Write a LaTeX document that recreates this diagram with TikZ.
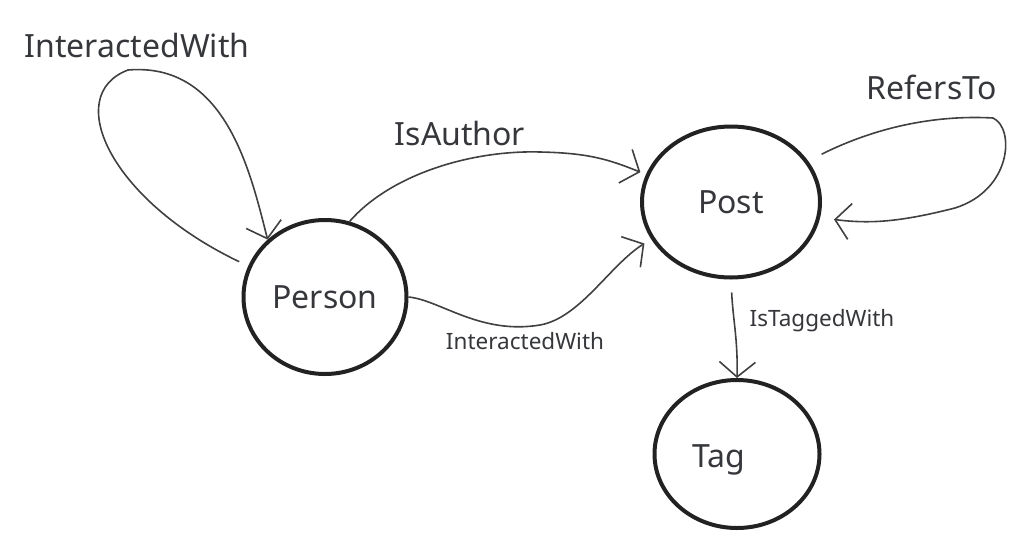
\documentclass[tikz,border=0pt]{standalone}
\usepackage{fontspec}
\setmainfont{Noto Sans}
\usetikzlibrary{arrows.meta,shapes.geometric}
\definecolor{ink}{HTML}{35373B}
\definecolor{rim}{HTML}{222222}
\definecolor{wire}{HTML}{404040}
\tikzset{
  entity/.style={draw=rim, line width=4pt, ellipse, inner sep=0pt, text=ink, font=\fontsize{32}{32}\selectfont},
  rel/.style={draw=wire, line width=1.6pt, -{Straight Barb[length=15pt,width=36pt,line width=1.6pt]}},
  biglab/.style={text=ink, font=\fontsize{32}{32}\selectfont, inner sep=0pt},
  smalllab/.style={text=ink, font=\fontsize{22.5}{22.5}\selectfont, inner sep=0pt},
}

\begin{document}
\begin{tikzpicture}[x=1pt,y=-1pt]
\useasboundingbox (0,0) rectangle (1035,549);

% entities
\node[entity, minimum width=163pt, minimum height=154pt] (person) at (325,297) {Person};
\node[entity, minimum width=178pt, minimum height=151pt] (post) at (731,202) {Post};
\node[entity, minimum width=165pt, minimum height=148pt,
      label={[biglab,xshift=-18pt,yshift=-6pt]center:Tag}] (tag) at (737,454) {};

% relations
\draw[rel, shorten <=10pt] (person.158) .. controls (110,200) and (62,95) .. (128,70)
  .. controls (225,62) and (250,170) .. (person.135);
\draw[rel, shorten >=6pt] (person.72) .. controls (390,175) and (470,150) .. (540,152)
  .. controls (590,153) and (610,160) .. (post.162);
\draw[rel, shorten >=8pt] (person.0) .. controls (440,300) and (480,335) .. (540,325)
  .. controls (580,318) and (610,265) .. (post.205);
\draw[rel, shorten <=15pt, shorten >=14pt] (post.28) .. controls (880,125) and (940,115) .. (993,118)
  .. controls (1015,128) and (1012,190) .. (955,208)
  .. controls (900,222) and (870,224) .. (post.-10);
\draw[rel, shorten <=13pt] (post.south) .. controls (733,320) and (738,340) .. (tag.north);

% labels
\node[biglab] (lselfpers) at (137,45) {InteractedWith};
\node[biglab] (lauthor) at (460,133) {IsAuthor};
\node[biglab] (lrefers) at (932,87) {RefersTo};
\node[smalllab] (linteract) at (525,341) {InteractedWith};
\node[smalllab] (ltagged) at (822,321) {IsTaggedWith};

\end{tikzpicture}
\end{document}
